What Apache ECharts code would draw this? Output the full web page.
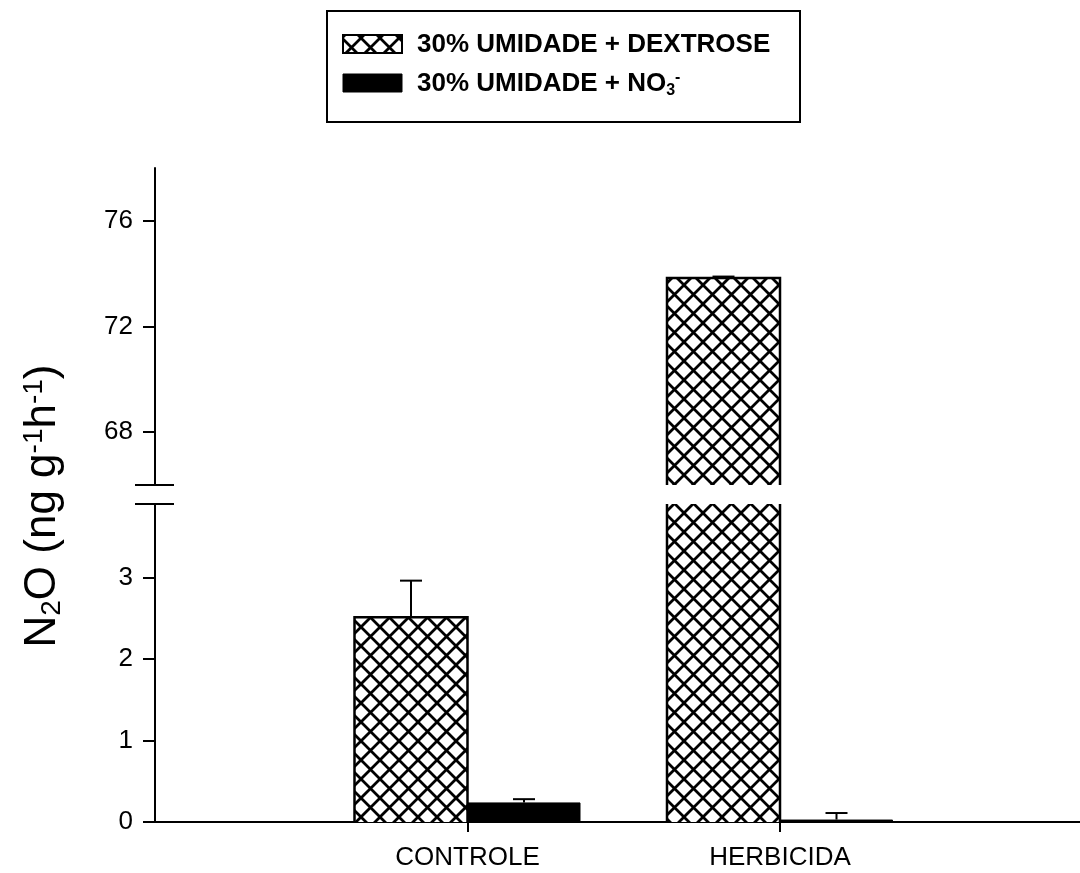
<!DOCTYPE html>
<html>
<head>
<meta charset="utf-8">
<script src="https://cdn.jsdelivr.net/npm/echarts@6/dist/echarts.min.js"></script>
<style>
  html, body { margin: 0; padding: 0; background: #fff; }
  #chart { width: 1080px; height: 873px; }
</style>
</head>
<body>
<div id="chart"></div>
<script>
// Categories (outer blank slots pad the axis on both sides)
const categories = ['', 'CONTROLE', 'HERBICIDA', ''];

// N2O emission (ng g-1 h-1) and standard error
const dextrose    = [null, 2.51, 73.84, null];
const dextroseErr = [null, 0.45, 0.05, null];
const nitrate     = [null, 0.24, 0.03, null];
const nitrateErr  = [null, 0.04, 0.08, null];

// Broken value axis: upper and lower segments
const upperRange = [66, 78];
const upperTicks = [68, 72, 76];
const lowerRange = [0, 3.9];
const lowerTicks = [0, 1, 2, 3];

const seriesNames = ['30% UMIDADE + DEXTROSE', '30% UMIDADE + NO3-'];

const FONT = '"Liberation Sans", Arial, Helvetica, sans-serif';
const BAR_W = 113;
const GRID_LEFT = 155;
const GRID_W = 937.5;
const UPPER = { top: 168, height: 317 };
const LOWER = { top: 504, height: 318 };

// Cross-hatch fill
function makeHatch() {
  const s = 19;
  const c = document.createElement('canvas');
  c.width = s; c.height = s;
  const g = c.getContext('2d');
  g.fillStyle = '#fff';
  g.fillRect(0, 0, s, s);
  g.strokeStyle = '#000';
  g.lineWidth = 2.8;
  g.beginPath();
  for (const ox of [-s, 0, s]) {
    g.moveTo(ox, 0); g.lineTo(ox + s, s);
    g.moveTo(ox + s, 0); g.lineTo(ox, s);
  }
  g.stroke();
  return { image: c, repeat: 'repeat' };
}
const hatch = makeHatch();

const chart = echarts.init(document.getElementById('chart'), null, { renderer: 'canvas' });

function pointData(values, extra) {
  const out = [];
  values.forEach((v, i) => {
    if (v != null) out.push(extra ? [i, v, extra[i]] : [i, v]);
  });
  return out;
}

// Error bars (upper whisker only), side -1 = left bar of the pair, +1 = right bar
function errorSeries(values, errs, side, xi, yi) {
  return {
    type: 'custom',
    xAxisIndex: xi,
    yAxisIndex: yi,
    clip: true,
    z: 5,
    silent: true,
    data: pointData(values, errs),
    renderItem: function (params, api) {
      const i = api.value(0), v = api.value(1), e = api.value(2);
      const base = api.coord([i, v]);
      const top = api.coord([i, v + e]);
      const x = base[0] + side * BAR_W / 2;
      return {
        type: 'group',
        children: [
          { type: 'line', shape: { x1: x, y1: base[1], x2: x, y2: top[1] },
            style: { stroke: '#000', lineWidth: 2 } },
          { type: 'line', shape: { x1: x - 11, y1: top[1], x2: x + 11, y2: top[1] },
            style: { stroke: '#000', lineWidth: 2 } }
        ]
      };
    }
  };
}

// Open outline (left, top, right) of the hatched bars; clipped at the axis break
function outlineSeries(values, xi, yi) {
  return {
    type: 'custom',
    xAxisIndex: xi,
    yAxisIndex: yi,
    clip: true,
    z: 4,
    silent: true,
    data: pointData(values),
    renderItem: function (params, api) {
      const i = api.value(0), v = api.value(1);
      const base = api.coord([i, 0]);
      const top = api.coord([i, v]);
      const xr = base[0], xl = base[0] - BAR_W;
      return {
        type: 'polyline',
        shape: { points: [[xl, base[1]], [xl, top[1]], [xr, top[1]], [xr, base[1]]] },
        style: { stroke: '#000', lineWidth: 2.5, fill: null }
      };
    }
  };
}

function valueAxis(gridIndex, range, ticks) {
  return {
    type: 'value',
    gridIndex: gridIndex,
    min: range[0],
    max: range[1],
    axisLine: { show: true, lineStyle: { color: '#000', width: 2 } },
    axisTick: { show: true, length: 12, customValues: ticks, lineStyle: { color: '#000', width: 2 } },
    axisLabel: { customValues: ticks, color: '#000', fontSize: 26, fontFamily: FONT, margin: 22 },
    splitLine: { show: false }
  };
}

function barSeries(name, data, color, border, xi, yi) {
  return {
    name: name,
    type: 'bar',
    xAxisIndex: xi,
    yAxisIndex: yi,
    data: data,
    barWidth: BAR_W,
    barGap: '0%',
    itemStyle: { color: color, borderColor: '#000', borderWidth: border },
    emphasis: { disabled: true }
  };
}

const gridCommon = { left: GRID_LEFT, width: GRID_W, containLabel: false, outerBoundsMode: 'none' };

const option = {
  backgroundColor: '#fff',
  animation: false,
  grid: [
    Object.assign({ top: UPPER.top, height: UPPER.height }, gridCommon),
    Object.assign({ top: LOWER.top, height: LOWER.height }, gridCommon)
  ],
  xAxis: [
    { type: 'category', gridIndex: 0, data: categories, boundaryGap: false, show: false },
    {
      type: 'category', gridIndex: 1, data: categories, boundaryGap: false,
      axisLine: { show: true, lineStyle: { color: '#000', width: 2 } },
      axisTick: {
        show: true, length: 10, interval: (idx) => categories[idx] !== '',
        lineStyle: { color: '#000', width: 2 }
      },
      axisLabel: { interval: 0, color: '#000', fontSize: 26, fontFamily: FONT, margin: 23 }
    }
  ],
  yAxis: [
    valueAxis(0, upperRange, upperTicks),
    valueAxis(1, lowerRange, lowerTicks)
  ],
  series: [
    barSeries(seriesNames[0], dextrose, hatch, 0, 0, 0),
    barSeries(seriesNames[1], nitrate, '#000', 1, 0, 0),
    barSeries(seriesNames[0], dextrose, hatch, 0, 1, 1),
    barSeries(seriesNames[1], nitrate, '#000', 1, 1, 1),
    outlineSeries(dextrose, 0, 0),
    outlineSeries(dextrose, 1, 1),
    errorSeries(dextrose, dextroseErr, -1, 0, 0),
    errorSeries(nitrate, nitrateErr, 1, 0, 0),
    errorSeries(dextrose, dextroseErr, -1, 1, 1),
    errorSeries(nitrate, nitrateErr, 1, 1, 1)
  ],
  graphic: [
    // axis break marks
    { type: 'line', shape: { x1: 135, y1: UPPER.top + UPPER.height, x2: 174, y2: UPPER.top + UPPER.height },
      style: { stroke: '#000', lineWidth: 2 }, z: 10 },
    { type: 'line', shape: { x1: 135, y1: LOWER.top, x2: 174, y2: LOWER.top },
      style: { stroke: '#000', lineWidth: 2 }, z: 10 },
    // y-axis title
    {
      type: 'text', x: 43, y: 506, rotation: Math.PI / 2,
      style: {
        text: 'N{sub|2}O (ng g{sup|-1}h{sup|-1})',
        font: '44px ' + FONT, fill: '#000', align: 'center', verticalAlign: 'middle',
        rich: {
          sub: { fontSize: 28, fontFamily: FONT, verticalAlign: 'bottom', padding: [16, 0, 0, 0] },
          sup: { fontSize: 28, fontFamily: FONT, verticalAlign: 'top', padding: [0, 0, 18, 0] }
        }
      }
    },
    // legend box
    { type: 'rect', shape: { x: 327, y: 11, width: 473, height: 111 },
      style: { fill: '#fff', stroke: '#000', lineWidth: 2 }, z: 1 },
    { type: 'rect', shape: { x: 343, y: 35, width: 59, height: 18 },
      style: { fill: hatch, stroke: '#000', lineWidth: 2 }, z: 2 },
    { type: 'rect', shape: { x: 343, y: 74, width: 59, height: 18 },
      style: { fill: '#000', stroke: '#000', lineWidth: 1 }, z: 2 },
    {
      type: 'text', x: 417, y: 45, z: 2,
      style: { text: seriesNames[0], font: 'bold 26px ' + FONT, fill: '#000', verticalAlign: 'middle' }
    },
    {
      type: 'text', x: 417, y: 84, z: 2,
      style: {
        text: '30% UMIDADE + NO{sub|3}{sup|-}',
        font: 'bold 26px ' + FONT, fill: '#000', verticalAlign: 'middle',
        rich: {
          sub: { fontSize: 16, fontWeight: 'bold', fontFamily: FONT, verticalAlign: 'bottom', padding: [13, 0, 0, 0] },
          sup: { fontSize: 16, fontWeight: 'bold', fontFamily: FONT, verticalAlign: 'top', padding: [0, 0, 13, 0] }
        }
      }
    }
  ]
};

chart.setOption(option);
</script>
</body>
</html>
